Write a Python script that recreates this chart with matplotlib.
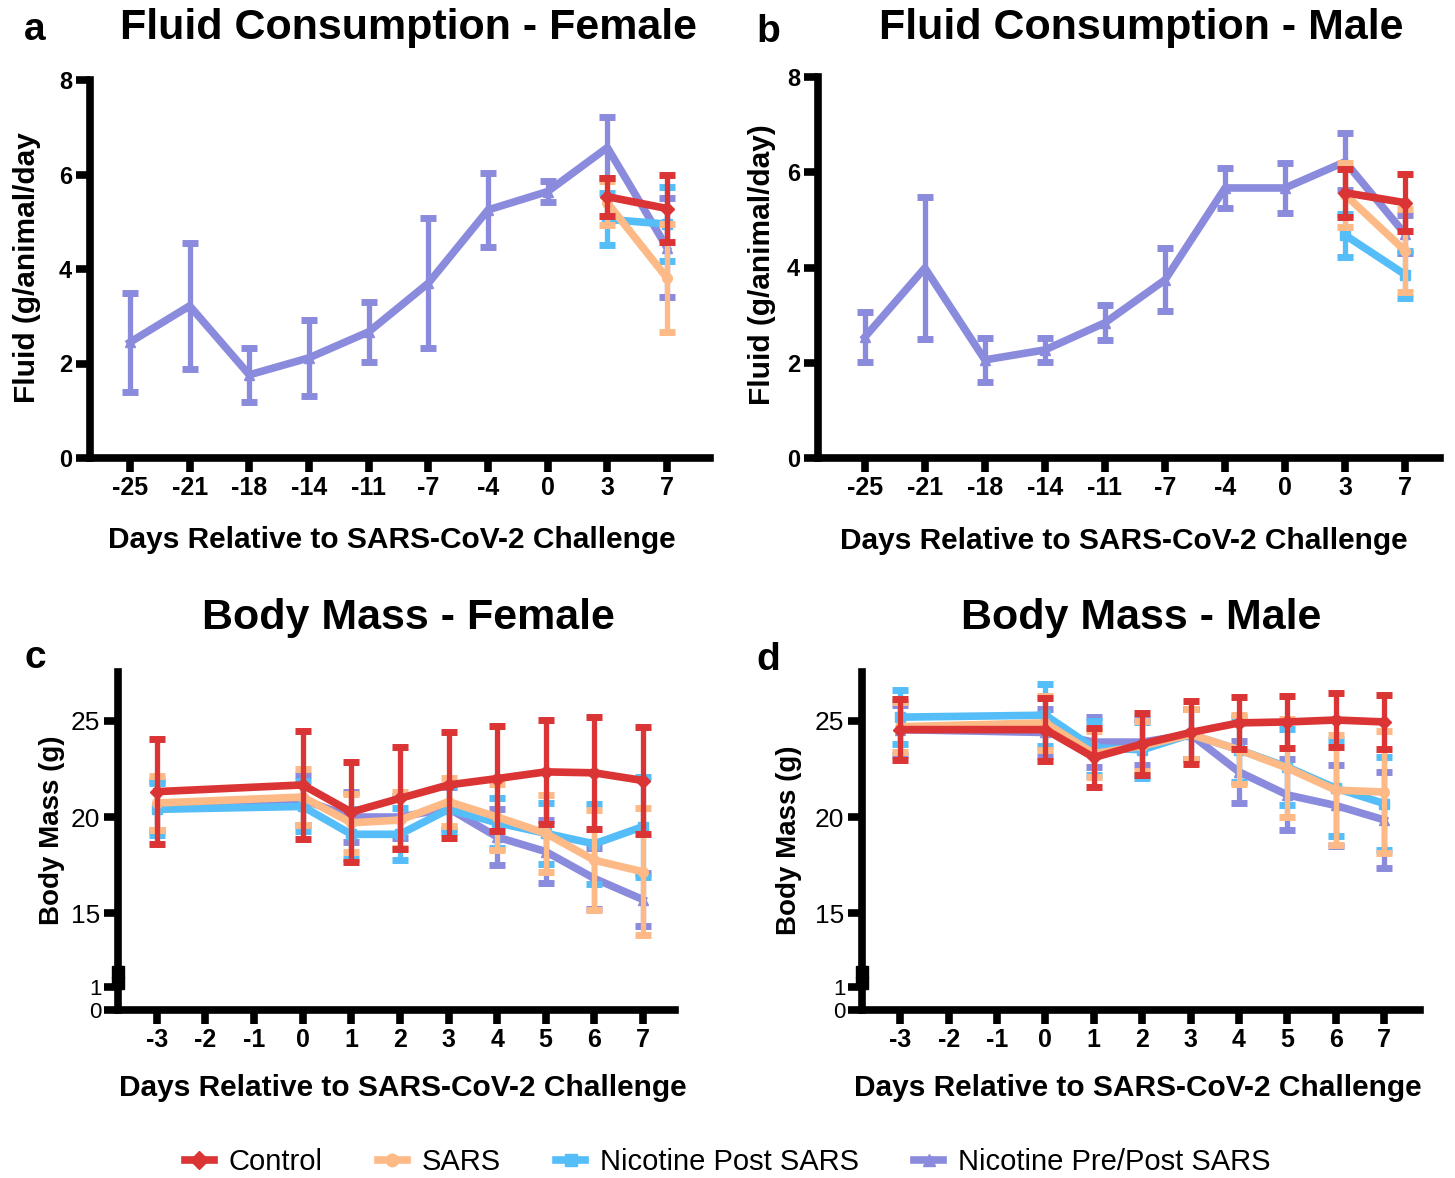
import numpy as np
import matplotlib
matplotlib.use("Agg")
import matplotlib.pyplot as plt
from matplotlib.lines import Line2D

plt.rcParams['font.family'] = ['Liberation Sans', 'DejaVu Sans']

# ---- data ----
fluid_days = ['-25', '-21', '-18', '-14', '-11', '-7', '-4', '0', '3', '7']
late_days = ['3', '7']

# Fluid consumption - female
ff_prepost = [2.45, 3.22, 1.76, 2.12, 2.67, 3.70, 5.25, 5.64, 6.57, 4.45]
ff_prepost_err = [1.05, 1.33, 0.57, 0.80, 0.63, 1.37, 0.78, 0.22, 0.65, 1.05]
ff_control = [5.53, 5.28]
ff_control_err = [0.40, 0.70]
ff_sars = [5.40, 3.81]
ff_sars_err = [0.47, 1.15]
ff_post = [5.05, 4.95]
ff_post_err = [0.55, 0.78]

# Fluid consumption - male
fm_prepost = [2.54, 3.99, 2.06, 2.27, 2.84, 3.74, 5.67, 5.67, 6.22, 4.70]
fm_prepost_err = [0.53, 1.50, 0.47, 0.25, 0.37, 0.66, 0.42, 0.53, 0.60, 0.40]
fm_control = [5.57, 5.36]
fm_control_err = [0.50, 0.60]
fm_sars = [5.53, 4.35]
fm_sars_err = [0.67, 0.87]
fm_post = [4.68, 3.85]
fm_post_err = [0.45, 0.50]

# Body mass
mass_days = [-3, 0, 1, 2, 3, 4, 5, 6, 7]
mass_ticks = [-3, -2, -1, 0, 1, 2, 3, 4, 5, 6, 7]

bf_control = [21.32, 21.67, 20.26, 20.97, 21.67, 22.00, 22.35, 22.30, 21.90]
bf_control_err = [2.75, 2.80, 2.60, 2.65, 2.75, 2.75, 2.70, 2.90, 2.80]
bf_sars = [20.73, 21.04, 19.70, 19.84, 20.80, 20.00, 19.15, 17.75, 17.15]
bf_sars_err = [1.40, 1.45, 1.50, 1.45, 1.25, 1.70, 2.00, 2.60, 3.30]
bf_post = [20.40, 20.55, 19.10, 19.10, 20.40, 19.70, 19.15, 18.60, 19.50]
bf_post_err = [1.35, 1.30, 1.30, 1.35, 1.20, 1.30, 1.60, 2.10, 2.60]
bf_prepost = [20.60, 20.90, 20.00, 20.00, 20.45, 18.96, 18.20, 16.80, 15.70]
bf_prepost_err = [1.30, 1.30, 1.30, 1.10, 1.10, 1.45, 1.65, 1.60, 1.40]

bm_control = [24.55, 24.55, 23.10, 23.80, 24.40, 24.90, 24.95, 25.05, 24.95]
bm_control_err = [1.60, 1.65, 1.55, 1.60, 1.65, 1.35, 1.35, 1.40, 1.40]
bm_sars = [24.70, 24.90, 23.30, 23.70, 24.30, 23.50, 22.55, 21.40, 21.30]
bm_sars_err = [1.30, 1.40, 1.20, 1.30, 1.30, 1.80, 2.55, 2.85, 3.20]
bm_post = [25.20, 25.30, 23.60, 23.50, 24.30, 23.50, 22.60, 21.50, 20.70]
bm_post_err = [1.40, 1.60, 1.40, 1.45, 1.30, 1.70, 2.00, 2.50, 2.40]
bm_prepost = [24.55, 24.40, 23.90, 23.90, 24.30, 22.35, 21.15, 20.60, 19.85]
bm_prepost_err = [1.30, 1.20, 1.30, 1.20, 1.30, 1.60, 1.85, 2.10, 2.50]

groups = ['Control', 'SARS', 'Nicotine Post SARS', 'Nicotine Pre/Post SARS']
colors = {'Control': '#DA3434', 'SARS': '#FDBA87',
          'Nicotine Post SARS': '#55BEF8', 'Nicotine Pre/Post SARS': '#8B8BDD'}
markers = {'Control': 'D', 'SARS': 'o', 'Nicotine Post SARS': 's',
           'Nicotine Pre/Post SARS': '^'}

W, H = 1455, 1178
fig = plt.figure(figsize=(W / 100, H / 100), dpi=100)


def box(l, t, r, b):
    # pixel box -> figure fraction
    return [l / W, (H - b) / H, (r - l) / W, (b - t) / H]


def style(ax, spines=('left', 'bottom'), size=18):
    for s in ['left', 'right', 'top', 'bottom']:
        ax.spines[s].set_visible(s in spines)
        ax.spines[s].set_linewidth(5.5)
    ax.tick_params(width=5.5, length=10, labelsize=size, pad=3)
    for lab in ax.get_xticklabels() + ax.get_yticklabels():
        lab.set_fontweight('bold')


def series(ax, x, y, e, g, z):
    ax.errorbar(x, y, yerr=e, color=colors[g], lw=5.5, elinewidth=3.8,
                capsize=6, capthick=5, marker=markers[g], ms=7,
                zorder=z, clip_on=False)


order = ['Nicotine Pre/Post SARS', 'Nicotine Post SARS', 'SARS', 'Control']

# ---- fluid panels ----
fluid_sets = [
    (box(90, 80, 710, 458), -0.67, 9.72,
     {'Nicotine Pre/Post SARS': (ff_prepost, ff_prepost_err),
      'Nicotine Post SARS': (ff_post, ff_post_err),
      'SARS': (ff_sars, ff_sars_err), 'Control': (ff_control, ff_control_err)}),
    (box(818, 77, 1440, 458), -0.78, 9.58,
     {'Nicotine Pre/Post SARS': (fm_prepost, fm_prepost_err),
      'Nicotine Post SARS': (fm_post, fm_post_err),
      'SARS': (fm_sars, fm_sars_err), 'Control': (fm_control, fm_control_err)}),
]
xall = np.arange(len(fluid_days))
xlate = np.array([fluid_days.index(d) for d in late_days])
for rect, x0, x1, data in fluid_sets:
    ax = fig.add_axes(rect)
    for z, g in enumerate(order):
        y, e = data[g]
        xx = xall if len(y) == len(fluid_days) else xlate
        series(ax, xx, y, e, g, 3 + z)
    ax.set_xlim(x0, x1)
    ax.set_ylim(0, 8)
    ax.set_xticks(xall)
    ax.set_xticklabels(fluid_days)
    ax.set_yticks([0, 2, 4, 6, 8])
    style(ax)
    ax.tick_params(axis='y', labelsize=17)

# ---- body mass panels (broken y axis) ----
mass_sets = [
    (118, 675, -3.8, 7.66,
     {'Nicotine Pre/Post SARS': (bf_prepost, bf_prepost_err),
      'Nicotine Post SARS': (bf_post, bf_post_err),
      'SARS': (bf_sars, bf_sars_err), 'Control': (bf_control, bf_control_err)}),
    (862, 1420, -3.79, 7.74,
     {'Nicotine Pre/Post SARS': (bm_prepost, bm_prepost_err),
      'Nicotine Post SARS': (bm_post, bm_post_err),
      'SARS': (bm_sars, bm_sars_err), 'Control': (bm_control, bm_control_err)}),
]
for l, r, x0, x1, data in mass_sets:
    top = fig.add_axes(box(l, 672, r, 972))
    low = fig.add_axes(box(l, 983, r, 1010))
    for z, g in enumerate(order):
        y, e = data[g]
        series(top, mass_days, y, e, g, 3 + z)
    top.set_xlim(x0, x1)
    top.set_ylim(11.93, 27.55)
    top.set_yticks([15, 20, 25])
    top.set_xticks([])
    style(top, spines=('left',), size=19)
    for lab in top.get_yticklabels():
        lab.set_fontweight('normal')
    low.set_xlim(x0, x1)
    low.set_ylim(0, 1.15)
    low.set_yticks([0, 1])
    low.set_xticks(mass_ticks)
    low.set_xticklabels([str(d) for d in mass_ticks])
    style(low)
    low.tick_params(axis='y', labelsize=16, pad=2)
    for lab in low.get_yticklabels():
        lab.set_fontweight('normal')
    # break ends on the y axis
    top.plot([0], [0], marker='s', ms=9, color='black', transform=top.transAxes,
             clip_on=False, zorder=10)
    low.plot([0], [1], marker='s', ms=9, color='black', transform=low.transAxes,
             clip_on=False, zorder=10)

# ---- text ----
tkw = dict(fontsize=31, fontweight='bold', ha='center', va='center')
fig.text(408 / W, 1 - 28 / H, 'Fluid Consumption - Female', **tkw)
fig.text(1141 / W, 1 - 28 / H, 'Fluid Consumption - Male', **tkw)
fig.text(408 / W, 1 - 618 / H, 'Body Mass - Female', **tkw)
fig.text(1141 / W, 1 - 618 / H, 'Body Mass - Male', **tkw)

lkw = dict(fontsize=28, fontweight='bold', ha='center', va='center')
fig.text(35 / W, 1 - 30 / H, 'a', **lkw)
fig.text(768 / W, 1 - 32 / H, 'b', **lkw)
fig.text(35 / W, 1 - 658 / H, 'c', **lkw)
fig.text(768 / W, 1 - 660 / H, 'd', **lkw)

xkw = dict(fontsize=21.5, fontweight='bold', ha='center', va='center')
xlab = 'Days Relative to SARS-CoV-2 Challenge'
fig.text(392 / W, 1 - 540 / H, xlab, **xkw)
fig.text(1124 / W, 1 - 541 / H, xlab, **xkw)
fig.text(403 / W, 1 - 1088 / H, xlab, **xkw)
fig.text(1138 / W, 1 - 1088 / H, xlab, **xkw)

ykw = dict(fontsize=21.5, fontweight='bold', ha='center', va='center', rotation=90)
fig.text(27 / W, 1 - 268 / H, 'Fluid (g/animal/day', **ykw)
fig.text(762 / W, 1 - 265 / H, 'Fluid (g/animal/day)', **ykw)
ykw['fontsize'] = 20
fig.text(52 / W, 1 - 830 / H, 'Body Mass (g)', **ykw)
fig.text(789 / W, 1 - 840 / H, 'Body Mass (g)', **ykw)

# ---- legend ----
handles = [Line2D([], [], color=colors[g], lw=5.5, marker=markers[g], ms=9)
           for g in groups]
fig.legend(handles, groups, loc='center', bbox_to_anchor=(0.5, 1 - 1162 / H),
           ncol=4, frameon=False, fontsize=21, handlelength=1.0,
           columnspacing=1.9, handletextpad=0.5)

fig.savefig('out.png', dpi=100)
